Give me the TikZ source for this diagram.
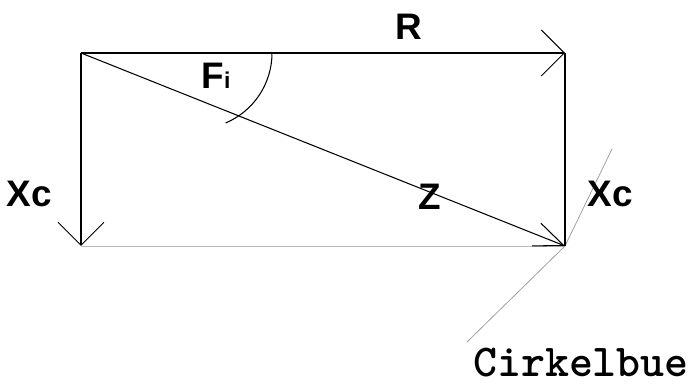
\documentclass[tikz,border=0pt]{standalone}
\usepackage{fontspec}
\setmainfont{Liberation Sans}
\usetikzlibrary{arrows.meta}

\begin{document}
\begin{tikzpicture}[>=Stealth,
  side/.style={line width=0.6pt},
  vec/.style={side,-{Straight Barb[length=0.46cm,width=0.92cm]}},
  zvec/.style={side,-{Straight Barb[length=0.59cm,width=0.49cm]}},
  aux/.style={gray!75,line width=0.45pt},
  lbl/.style={font=\fontsize{21}{25}\selectfont\bfseries,anchor=base,inner sep=0pt}]
\useasboundingbox (0,0) rectangle (13.96,-7.74);
%% corners of the rectangle
\coordinate (A) at (1.62,-1.06);
\coordinate (B) at (11.30,-1.06);
\coordinate (C) at (11.30,-4.92);
\coordinate (D) at (1.62,-4.92);
\coordinate (bueLo) at (9.34,-6.84);
\coordinate (bueHi) at (12.24,-2.98);
\draw[gray!55,line width=0.5pt] (D) -- (C);
\draw[aux] (bueLo) -- (C) -- (bueHi);
\draw[vec] (A) -- (B);
\draw[vec] (A) -- (D);
\draw[side] (B) -- (C);
\draw[zvec] (A) -- (C);
\draw[side] (5.44,-1.06) arc[start angle=0,end angle=-67,radius=1.52];
\node[lbl] (lblR) at (8.18,-0.80) {R};
\node[lbl] (lblFi) at (4.32,-1.78) {F{\fontsize{13}{15}\selectfont i}};
\node[lbl] (lblXcL) at (0.58,-4.14) {Xc};
\node[lbl] (lblZ) at (8.60,-4.20) {Z};
\node[lbl] (lblXcR) at (12.20,-4.14) {Xc};
\node[anchor=base,inner sep=0pt,font=\ttfamily\fontsize{26}{30}\selectfont\bfseries] (lblCirkel) at (11.62,-7.54) {Cirkelbue};
\end{tikzpicture}
\end{document}
